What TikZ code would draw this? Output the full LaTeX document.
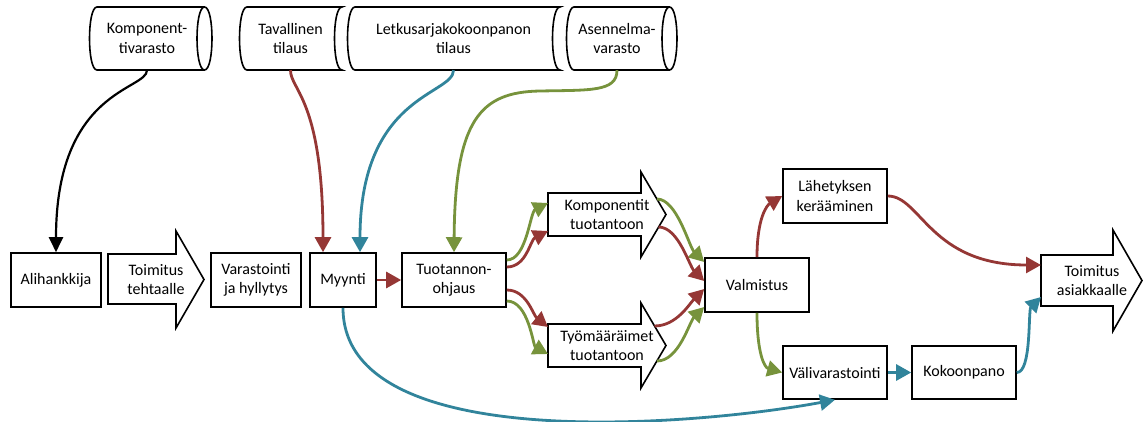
\documentclass[tikz,border=0pt]{standalone}
\usepackage{fontspec}
\setmainfont{Carlito}
\usetikzlibrary{arrows.meta,calc}
\definecolor{redflow}{RGB}{149,55,53}
\definecolor{blueflow}{RGB}{49,132,155}
\definecolor{greenflow}{RGB}{119,147,60}
\begin{document}
\begin{tikzpicture}[x=1pt,y=-1pt,
	every node/.style={font=\fontsize{16pt}{19.5pt}\selectfont, align=center, inner sep=0pt},
	box/.style={draw, line width=1.6pt, minimum width=104pt, minimum height=54pt},
	txt/.style={minimum width=100pt, minimum height=63pt},
	outline/.style={line width=1.6pt},
	flow/.style={line width=2.8pt, -{Triangle[length=15pt,width=16pt]}}]
\useasboundingbox (0,0) rectangle (1144,421);
% storage shapes on top
\draw[outline] (97,7) -- (204.5,7) .. controls (214.5,7) and (214.5,70) .. (204.5,70) -- (97,70) .. controls (87,70) and (87,7) .. (97,7) -- cycle;
\draw[outline] (204.5,7) .. controls (194.5,7) and (194.5,70) .. (204.5,70);
\draw[outline] (247,7) -- (342,7) .. controls (332,7) and (332,70) .. (342,70) -- (247,70) .. controls (237,70) and (237,7) .. (247,7) -- cycle;
\draw[outline] (355,7) -- (560,7) .. controls (550,7) and (550,70) .. (560,70) -- (355,70) .. controls (345,70) and (345,7) .. (355,7) -- cycle;
\draw[outline] (574,7) -- (669.5,7) .. controls (679.5,7) and (679.5,70) .. (669.5,70) -- (574,70) .. controls (564,70) and (564,7) .. (574,7) -- cycle;
\draw[outline] (669.5,7) .. controls (659.5,7) and (659.5,70) .. (669.5,70);
\node[txt] (kv) at (147,38.5) {Komponent-\\tivarasto};
\node[txt] (tav) at (290.5,38.5) {Tavallinen\\tilaus};
\node[txt] (let) at (453.5,38.5) {Letkusarjakokoonpanon\\tilaus};
\node[txt] (ase) at (617,38.5) {Asennelma-\\varasto};
% big arrows
\draw[outline] (108,254) -- (176,254) -- (176,231) -- (204,279.5) -- (176,328) -- (176,304) -- (108,304) -- cycle;
\draw[outline] (548,193) -- (641,193) -- (641,172) -- (666,214.5) -- (641,257) -- (641,236) -- (548,236) -- cycle;
\draw[outline] (548,324) -- (641,324) -- (641,303) -- (666,345.5) -- (641,388) -- (641,367) -- (548,367) -- cycle;
\draw[outline] (1041,255) -- (1113,255) -- (1113,230) -- (1142,280.5) -- (1113,331) -- (1113,306) -- (1041,306) -- cycle;
\node (tt) at (156,279.5) {Toimitus\\tehtaalle};
\node (kt) at (607,214.5) {Komponentit\\tuotantoon};
\node (tm) at (607,345.5) {Työmääräimet\\tuotantoon};
\node (ta) at (1092,280.5) {Toimitus\\asiakkaalle};
\coordinate (kt-gi) at (548,203);
\coordinate (kt-ri) at (548,231);
\coordinate (kt-go) at (657,199);
\coordinate (kt-ro) at (658.5,227);
\coordinate (tm-ri) at (548,327);
\coordinate (tm-gi) at (548,354);
\coordinate (tm-ro) at (654.5,326);
\coordinate (tm-go) at (657,361);
\coordinate (ta-r) at (1041,265);
\coordinate (ta-b) at (1041,297);
% boxes
\node[box, minimum width=90pt] (ali) at (56,280) {Alihankkija};
\node[box, minimum width=90pt] (var) at (256,280) {Varastointi\\ja hyllytys};
\node[box, minimum width=66pt] (myy) at (343,280) {Myynti};
\node[box] (tuo) at (454,280) {Tuotannon-\\ohjaus};
\node[box] (val) at (757,285) {Valmistus};
\node[box] (lah) at (835,196) {Lähetyksen\\kerääminen};
\node[box, minimum height=53pt] (vali) at (835,372.5) {Välivarastointi};
\node[box, minimum height=53pt] (kok) at (964,372.5) {Kokoonpano};
% connectors
\draw[flow, line width=2.2pt, -{Triangle[length=15pt,width=14pt]}] (kv.south) .. controls +(0,20) and +(0,-163) .. (ali.north);
\draw[flow, redflow] (tav.south) .. controls +(0,20) and +(0,-153) .. ($(myy.north)+(-20,0)$);
\draw[flow, blueflow] (let.south) .. controls +(0,25) and +(0,-158) .. ($(myy.north)+(17,0)$);
\draw[flow, greenflow] (ase.south) .. controls (617,92) and (590,90) .. (540,91) .. controls (480,92) and (455,120) .. (tuo.north);
\draw[flow, redflow] (myy) -- (tuo);
\draw[flow, greenflow] ($(tuo.east)+(0,-20)$) .. controls +(20,0) and +(-18,9) .. (kt-gi);
\draw[flow, redflow] ($(tuo.east)+(0,-13)$) .. controls +(20,0) and +(-18,9) .. (kt-ri);
\draw[flow, redflow] ($(tuo.east)+(0,10)$) .. controls +(20,0) and +(-15,-12) .. (tm-ri);
\draw[flow, greenflow] ($(tuo.east)+(0,21)$) .. controls +(22,0) and +(-15,-8) .. (tm-gi);
\draw[flow, greenflow] (kt-go) .. controls +(20,0) and +(-15,-15) .. ($(val.west)+(0,-23)$);
\draw[flow, redflow] (kt-ro) .. controls +(20,0) and +(-15,-15) .. ($(val.west)+(0,-4)$);
\draw[flow, redflow] (tm-ro) .. controls +(22,0) and +(-15,15) .. ($(val.west)+(0,4)$);
\draw[flow, greenflow] (tm-go) .. controls +(22,0) and +(-15,15) .. ($(val.west)+(0,22)$);
\draw[flow, redflow] (val.north) .. controls +(0,-40) and +(-15,9) .. (lah.west);
\draw[flow, greenflow] (val.south) .. controls +(0,40) and +(-18,-5) .. (vali.west);
\draw[flow, blueflow] (vali) -- (kok);
\draw[flow, blueflow] (kok.east) .. controls +(15,0) and +(-13,13) .. (ta-b);
\draw[flow, redflow] (lah.east) .. controls +(33,0) and +(-111,0) .. (ta-r);
\draw[flow, blueflow] (myy.south) .. controls +(0,150) and +(-134,25) .. (vali.south);
\end{tikzpicture}
\end{document}
